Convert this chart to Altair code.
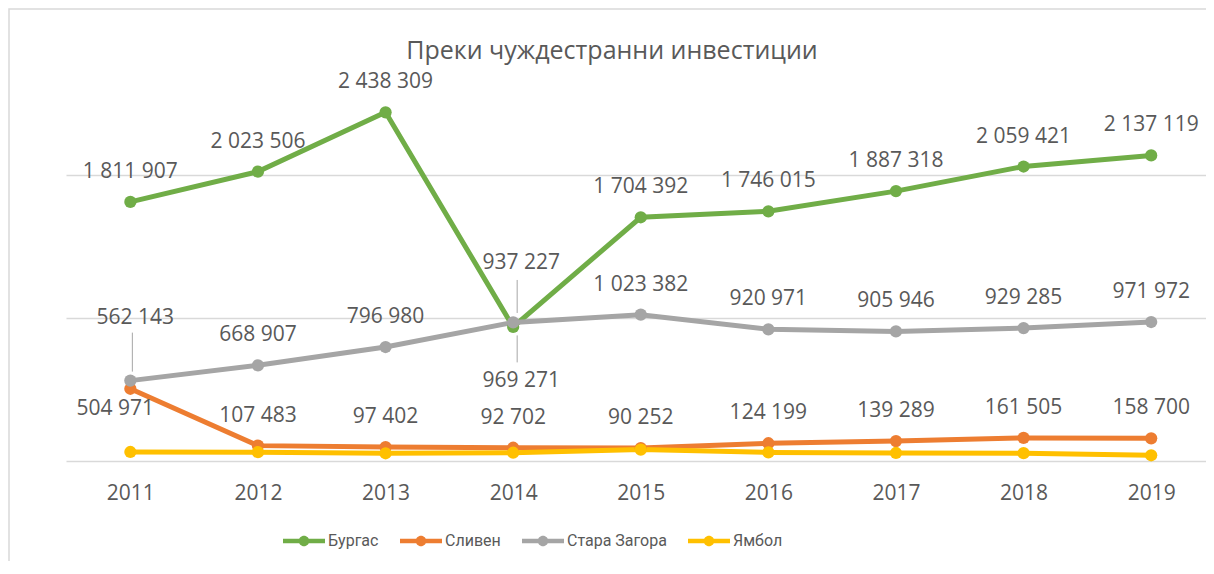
import altair as alt
import pandas as pd

years = ["2011", "2012", "2013", "2014", "2015", "2016", "2017", "2018", "2019"]
series_names = ["Бургас", "Сливен", "Стара Загора", "Ямбол"]
burgas = [1811907, 2023506, 2438309, 937227, 1704392, 1746015, 1887318, 2059421, 2137119]
sliven = [504971, 107483, 97402, 92702, 90252, 124199, 139289, 161505, 158700]
stara_zagora = [562143, 668907, 796980, 969271, 1023382, 920971, 905946, 929285, 971972]
yambol = [63000, 62000, 54000, 58000, 80000, 60000, 56000, 55000, 40000]
colors = ["#70AD47", "#ED7D31", "#A5A5A5", "#FFC000"]
title_text = "Преки чуждестранни инвестиции"

rows = []
for k, (name, vals) in enumerate(zip(series_names, [burgas, sliven, stara_zagora, yambol])):
    for yr, v in zip(years, vals):
        rows.append({"year": yr, "series": name, "order": k, "value": v,
                     "label": f"{v:,}".replace(",", " ")})
df = pd.DataFrame(rows)

W, H = 1140, 429
FONT = "Open Sans"
LEG_FONT = "Roboto"
TXT = "#595959"

x_enc = alt.X("year:O", sort=years,
              scale=alt.Scale(type="point", padding=0.467, align=0.54),
              axis=alt.Axis(title=None, labelAngle=0, domain=False, ticks=False, tickSize=0,
                            grid=False, labelFontSize=21, labelColor=TXT, labelFont=FONT,
                            labelPadding=21))
y_enc = alt.Y("value:Q", scale=alt.Scale(domain=[0, 3000000], nice=False),
              axis=alt.Axis(values=[0, 1000000, 2000000], labels=False, ticks=False,
                            domain=False, title=None, grid=True, gridColor="#d9d9d9",
                            gridWidth=1.5))

LEG_PATH = ("M-1,-0.11H1V0.11H-1Z "
            "M0.25,0A0.25,0.25,0,1,1,-0.25,0A0.25,0.25,0,1,1,0.25,0Z")

color_enc = alt.Color("series:N", sort=series_names,
                      scale=alt.Scale(domain=series_names, range=colors),
                      legend=alt.Legend(orient="none", legendX=217, legendY=488,
                                        direction="horizontal", title=None,
                                        symbolType=LEG_PATH, symbolSize=1764,
                                        symbolStrokeWidth=0, symbolOpacity=1,
                                        labelFontSize=16, labelColor=TXT, labelFont=LEG_FONT,
                                        labelOffset=3, columnPadding=21, padding=0))

border = alt.Chart(alt.Data(values=[{}])).mark_rect(
    fillOpacity=0, stroke="#d9d9d9", strokeWidth=1.5
).encode(x=alt.value(-57), x2=alt.value(W + 100), y=alt.value(-23), y2=alt.value(H + 200))

lines = alt.Chart(df).mark_line(strokeWidth=5).encode(
    x=x_enc, y=y_enc, color=color_enc, detail="series:N")

points = alt.Chart(df).mark_circle(size=150, opacity=1).encode(
    x=x_enc, y=y_enc, color=color_enc, order=alt.Order("order:Q"))

def rule(expr, y_off, y2_off, x_off):
    return alt.Chart(df).transform_filter(expr).mark_rule(
        color="#a6a6a6", strokeWidth=1, yOffset=y_off, y2Offset=y2_off, xOffset=x_off
    ).encode(x=x_enc, y=y_enc, y2=alt.Y2("value:Q"))

def labels(expr, dy, dx=0):
    return alt.Chart(df).transform_filter(expr).mark_text(
        fontSize=21, font=FONT, color=TXT, baseline="middle", align="center", dy=dy, dx=dx
    ).encode(x=x_enc, y=y_enc, text="label:N")

std = ("datum.series != 'Ямбол' && "
       "!(datum.year == '2011' && (datum.series == 'Сливен' || datum.series == 'Стара Загора')) && "
       "!(datum.year == '2014' && (datum.series == 'Бургас' || datum.series == 'Стара Загора'))")
sz11 = "datum.year == '2011' && datum.series == 'Стара Загора'"
sl11 = "datum.year == '2011' && datum.series == 'Сливен'"
bu14 = "datum.year == '2014' && datum.series == 'Бургас'"
sz14 = "datum.year == '2014' && datum.series == 'Стара Загора'"

title = alt.Chart(alt.Data(values=[{"t": title_text}])).mark_text(
    fontSize=25, font=FONT, color=TXT, baseline="alphabetic", align="center"
).encode(text="t:N", x=alt.value(546), y=alt.value(27))

chart = alt.layer(
    border,
    lines,
    points,
    rule(sz11, -9, -48, 2),
    rule(bu14, -14, -47, 4),
    rule(sz14, 13, 40, 4),
    labels(std, -30),
    labels(sz11, -63, 5),
    labels(sl11, 20, -15),
    labels(bu14, -64, 8),
    labels(sz14, 59, 8),
    title,
).properties(
    width=W, height=H,
    autosize=alt.AutoSizeParams(type="none"),
    padding={"left": 58, "top": 24, "right": 0, "bottom": 100},
).configure_view(stroke=None)

chart.save("out.html", embed_options={"renderer": "svg", "actions": False})
